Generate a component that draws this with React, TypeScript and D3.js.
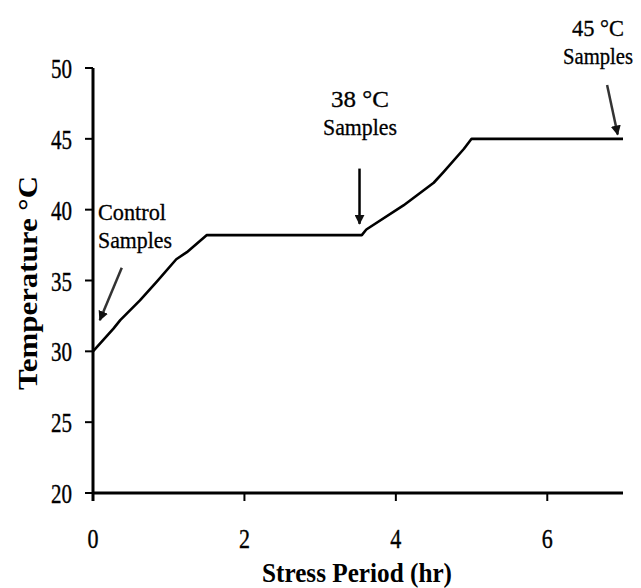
import React from "react";
import * as d3 from "d3";

const hours = [0, 0.27, 0.36, 0.62, 0.84, 1.1, 1.24, 1.5, 3.55, 3.61, 4.1, 4.5, 4.62, 4.9, 5.0, 7.0];
const temps = [30, 31.6, 32.2, 33.6, 34.9, 36.5, 37.0, 38.2, 38.2, 38.6, 40.3, 41.9, 42.6, 44.3, 45.0, 45.0];
const xTicks = [0, 2, 4, 6];
const yTicks = [20, 25, 30, 35, 40, 45, 50];
const annotations = [
  { lines: ["Control", "Samples"], from: [0.38, 35.9], to: [0.09, 32.2] },
  { lines: ["38 °C", "Samples"], from: [3.52, 42.9], to: [3.52, 39.0] },
  { lines: ["45 °C", "Samples"], from: [6.79, 48.8], to: [6.93, 45.3] },
];

const W = 641, H = 588;
const x = d3.scaleLinear().domain([0, 7]).range([93, 623]);
const y = d3.scaleLinear().domain([20, 50]).range([493, 68]);
const FONT = "'Liberation Serif', 'Times New Roman', serif";

export default function App() {
  const line = d3.line<number>().x((_, i) => x(hours[i])).y((d) => y(d));
  const pathD = line(temps) || "";

  const textPos = [
    { x: 98, y: 220, anchor: "start", widths: [68, 74] },
    { x: 360, y: 107, anchor: "middle", widths: [58, 74] },
    { x: 598, y: 36, anchor: "middle", widths: [52, 70] },
  ];

  return (
    <svg width={W} height={H} style={{ position: "absolute", left: 0, top: 0, background: "#fff" }}>
      <defs>
        <marker id="ah" viewBox="0 0 10 10" refX="9" refY="5" markerWidth="4" markerHeight="4" orient="auto" markerUnits="strokeWidth">
          <path d="M0,0 L10,5 L0,10 z" fill="#111" />
        </marker>
      </defs>
      <line x1={x(0)} x2={x(7)} y1={y(20)} y2={y(20)} stroke="#000" strokeWidth={3} />
      <line x1={x(0)} x2={x(0)} y1={y(20) + 8} y2={y(50)} stroke="#000" strokeWidth={3} />
      {yTicks.map((t) => (
        <g key={"y" + t}>
          <line x1={x(0) - 8} x2={x(0)} y1={y(t)} y2={y(t)} stroke="#000" strokeWidth={2} />
          <text x={72} y={y(t) + 10} textAnchor="end" fontFamily={FONT} fontSize={28} textLength={21} lengthAdjust="spacingAndGlyphs" stroke="#000" strokeWidth={0.4}>{t}</text>
        </g>
      ))}
      {xTicks.map((t) => (
        <g key={"x" + t}>
          <line x1={x(t)} x2={x(t)} y1={y(20)} y2={y(20) + 8} stroke="#000" strokeWidth={2} />
          <text x={x(t)} y={548} textAnchor="middle" fontFamily={FONT} fontSize={28} textLength={11} lengthAdjust="spacingAndGlyphs" stroke="#000" strokeWidth={0.4}>{t}</text>
        </g>
      ))}
      <text transform="translate(37,283) rotate(-90)" textAnchor="middle" fontFamily={FONT} fontWeight="bold" fontSize={27} textLength={214} lengthAdjust="spacingAndGlyphs">Temperature °C</text>
      <text x={357} y={582} textAnchor="middle" fontFamily={FONT} fontWeight="bold" fontSize={27} textLength={190} lengthAdjust="spacingAndGlyphs">Stress Period (hr)</text>
      <path d={pathD} fill="none" stroke="#000" strokeWidth={2.6} strokeLinejoin="round" />
      {annotations.map((a, i) => (
        <g key={"a" + i}>
          {a.lines.map((l, j) => (
            <text key={j} x={textPos[i].x} y={textPos[i].y + j * 28} textAnchor={textPos[i].anchor as any} fontFamily={FONT} fontSize={23} textLength={textPos[i].widths[j]} lengthAdjust="spacingAndGlyphs" stroke="#000" strokeWidth={0.3}>{l}</text>
          ))}
          <line x1={x(a.from[0])} y1={y(a.from[1])} x2={x(a.to[0])} y2={y(a.to[1])} stroke={i === 1 ? "#000" : "#333"} strokeWidth={2.5} markerEnd="url(#ah)" />
        </g>
      ))}
    </svg>
  );
}
